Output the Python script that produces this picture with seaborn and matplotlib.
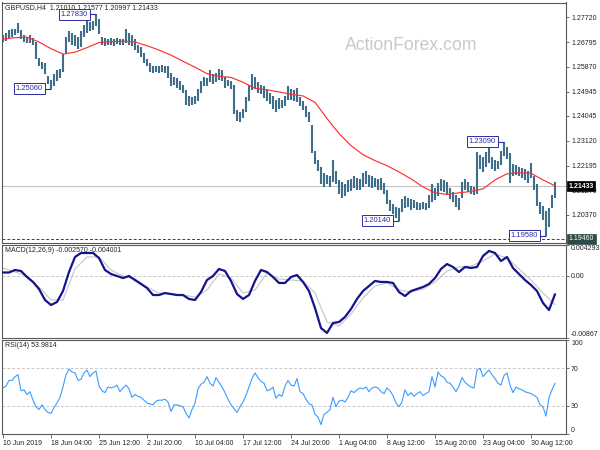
import numpy as np
import seaborn as sns
import matplotlib.pyplot as plt
import matplotlib.transforms as mtrans

# ---------------- data ----------------
# H4 price bars, oldest first (high / low)
bar_high = [
    1.2705, 1.2712, 1.2725, 1.2730, 1.2728, 1.2752, 1.2725, 1.2705, 1.2700, 1.2705,
    1.2695, 1.2680, 1.2620, 1.2605, 1.2600, 1.2555, 1.2540, 1.2560, 1.2575, 1.2580,
    1.2635, 1.2700, 1.2722, 1.2715, 1.2705, 1.2700, 1.2720, 1.2745, 1.2760, 1.2755,
    1.2760, 1.2783, 1.2765, 1.2700, 1.2695, 1.2690, 1.2695, 1.2690, 1.2695, 1.2692,
    1.2690, 1.2730, 1.2715, 1.2705, 1.2690, 1.2670, 1.2660, 1.2640, 1.2615, 1.2600,
    1.2590, 1.2592, 1.2590, 1.2595, 1.2592, 1.2590, 1.2565, 1.2550, 1.2545, 1.2535,
    1.2520, 1.2500, 1.2480, 1.2475, 1.2480, 1.2505, 1.2535, 1.2550, 1.2545, 1.2575,
    1.2560, 1.2565, 1.2580, 1.2575, 1.2550, 1.2540, 1.2535, 1.2520, 1.2425, 1.2420,
    1.2430, 1.2475, 1.2520, 1.2560, 1.2550, 1.2530, 1.2520, 1.2515, 1.2500, 1.2490,
    1.2480, 1.2465, 1.2470, 1.2465, 1.2480, 1.2515, 1.2505, 1.2500, 1.2510, 1.2475,
    1.2460, 1.2440, 1.2420, 1.2370, 1.2275, 1.2240, 1.2215, 1.2190, 1.2185, 1.2180,
    1.2240, 1.2200, 1.2165, 1.2160, 1.2150, 1.2165, 1.2170, 1.2180, 1.2175, 1.2170,
    1.2190, 1.2200, 1.2185, 1.2180, 1.2175, 1.2170, 1.2175, 1.2155, 1.2130, 1.2090,
    1.2075, 1.2065, 1.2060, 1.2095, 1.2105, 1.2100, 1.2095, 1.2090, 1.2085, 1.2080,
    1.2085, 1.2080, 1.2110, 1.2150, 1.2135, 1.2155, 1.2170, 1.2165, 1.2160, 1.2135,
    1.2120, 1.2110, 1.2100, 1.2160, 1.2170, 1.2160, 1.2145, 1.2140, 1.2270, 1.2260,
    1.2250, 1.2270, 1.2288, 1.2250, 1.2240, 1.2235, 1.2275, 1.2309, 1.2290, 1.2265,
    1.2225, 1.2220, 1.2215, 1.2210, 1.2205, 1.2200, 1.2230, 1.2180, 1.2150, 1.2085,
    1.2070, 1.2050, 1.2060, 1.2110, 1.2158,
]
bar_low = [
    1.2680, 1.2685, 1.2695, 1.2700, 1.2705, 1.2715, 1.2690, 1.2680, 1.2675, 1.2678,
    1.2668, 1.2615, 1.2590, 1.2578, 1.2560, 1.2525, 1.2506, 1.2515, 1.2535, 1.2545,
    1.2570, 1.2640, 1.2680, 1.2670, 1.2665, 1.2655, 1.2660, 1.2700, 1.2715, 1.2720,
    1.2725, 1.2740, 1.2710, 1.2670, 1.2665, 1.2668, 1.2670, 1.2665, 1.2672, 1.2668,
    1.2668, 1.2675, 1.2670, 1.2665, 1.2650, 1.2640, 1.2625, 1.2600, 1.2590, 1.2570,
    1.2565, 1.2568, 1.2565, 1.2570, 1.2565, 1.2545, 1.2515, 1.2520, 1.2510, 1.2500,
    1.2490, 1.2445, 1.2440, 1.2445, 1.2450, 1.2460, 1.2490, 1.2515, 1.2515, 1.2530,
    1.2525, 1.2530, 1.2540, 1.2535, 1.2510, 1.2515, 1.2505, 1.2410, 1.2385, 1.2380,
    1.2395, 1.2420, 1.2460, 1.2500, 1.2505, 1.2490, 1.2485, 1.2470, 1.2460, 1.2450,
    1.2430, 1.2420, 1.2430, 1.2435, 1.2440, 1.2465, 1.2465, 1.2460, 1.2455, 1.2440,
    1.2425, 1.2400, 1.2380, 1.2265, 1.2225, 1.2200, 1.2150, 1.2140, 1.2150, 1.2140,
    1.2160, 1.2150, 1.2115, 1.2100, 1.2105, 1.2120, 1.2125, 1.2135, 1.2130, 1.2130,
    1.2140, 1.2150, 1.2140, 1.2135, 1.2140, 1.2130, 1.2130, 1.2115, 1.2075, 1.2050,
    1.2040, 1.2025, 1.2014, 1.2045, 1.2060, 1.2065, 1.2055, 1.2060, 1.2055, 1.2055,
    1.2058, 1.2055, 1.2060, 1.2085, 1.2090, 1.2105, 1.2125, 1.2120, 1.2110, 1.2095,
    1.2085, 1.2065, 1.2055, 1.2100, 1.2130, 1.2120, 1.2115, 1.2110, 1.2115, 1.2205,
    1.2195, 1.2215, 1.2230, 1.2205, 1.2200, 1.2205, 1.2220, 1.2255, 1.2245, 1.2155,
    1.2180, 1.2185, 1.2180, 1.2175, 1.2165, 1.2155, 1.2175, 1.2130, 1.2070, 1.2040,
    1.2015, 1.1958, 1.1990, 1.2060, 1.2100,
]

# red moving average, one value every 4 bars
ma_line = [
    1.2691, 1.2696, 1.2698, 1.2680, 1.2655, 1.2635, 1.2642, 1.2659, 1.2678, 1.2681,
    1.2683, 1.2680, 1.2666, 1.2650, 1.2631, 1.2608, 1.2586, 1.2562, 1.2552, 1.2548,
    1.2530, 1.2507, 1.2502, 1.2494, 1.2485, 1.2479, 1.2455, 1.2395, 1.2339, 1.2294,
    1.2260, 1.2238, 1.2219, 1.2196, 1.2170, 1.2140, 1.2118, 1.2112, 1.2118, 1.2123,
    1.2133, 1.2166, 1.2189, 1.2193, 1.2191, 1.2166, 1.2144,
]

# MACD(12,26,9) main line, one value every 2 bars
macd_main = [
    0.00046, 0.00046, 0.00081, 0.00067, -0.00017, -0.00086, -0.00184, -0.00337, -0.00407, -0.00365,
    -0.00212, 0.00053, 0.00262, 0.00318, 0.00318, 0.00318, 0.00248, 0.00081, 0.00025, -0.00003,
    -0.00031, -0.00003, -0.00059, -0.00114, -0.00170, -0.00268, -0.00268, -0.00240, -0.00254, -0.00268,
    -0.00268, -0.00323, -0.00337, -0.00226, -0.00059, -0.00003, 0.00095, 0.00067, -0.00072, -0.00254,
    -0.00323, -0.00268, -0.00072, 0.00081, 0.00053, -0.00017, -0.00100, -0.00100, -0.00017, 0.00011,
    -0.00086, -0.00212, -0.00449, -0.00728, -0.00797, -0.00658, -0.00644, -0.00574, -0.00463, -0.00323,
    -0.00212, -0.00142, -0.00072, -0.00086, -0.00086, -0.00100, -0.00226, -0.00282, -0.00212, -0.00184,
    -0.00156, -0.00114, -0.00031, 0.00095, 0.00164, 0.00123, 0.00053, 0.00123, 0.00109, 0.00123,
    0.00276, 0.00346, 0.00318, 0.00206, 0.00262, 0.00109, 0.00025, -0.00059, -0.00128, -0.00212,
    -0.00379, -0.00477, -0.00257,
]
# MACD signal line, one value every 4 bars
macd_signal = [
    0.00109, 0.00053, -0.00003, -0.00156, -0.00337, -0.00337, 0.00095, 0.00262, 0.00262, 0.00081,
    -0.00003, -0.00045, -0.00156, -0.00240, -0.00254, -0.00268, -0.00296, -0.00198, 0.00025, -0.00031,
    -0.00240, -0.00198, 0.00039, -0.00045, -0.00059, -0.00072, -0.00240, -0.00644, -0.00700, -0.00532,
    -0.00309, -0.00142, -0.00100, -0.00198, -0.00226, -0.00184, -0.00086, 0.00067, 0.00123, 0.00137,
    0.00206, 0.00304, 0.00248, 0.00095, -0.00059, -0.00240, -0.00400,
]

# RSI(14), one value per bar
rsi = [
    49, 51, 57, 57, 61, 63, 46, 47, 42, 45,
    36, 29, 26, 31, 26, 23, 22, 28, 33, 39,
    50, 63, 69, 66, 65, 57, 58, 65, 68, 61,
    65, 67, 51, 46, 44, 50, 49, 50, 52, 45,
    49, 52, 48, 39, 42, 40, 39, 36, 33, 32,
    31, 35, 36, 36, 37, 34, 24, 31, 31, 30,
    29, 22, 17, 26, 33, 48, 53, 55, 61, 54,
    51, 60, 55, 50, 44, 37, 31, 27, 23, 29,
    34, 41, 50, 59, 65, 60, 56, 54, 46, 47,
    50, 38, 42, 40, 51, 57, 52, 51, 59, 45,
    43, 37, 32, 31, 21, 18, 10, 21, 23, 26,
    39, 29, 35, 36, 34, 39, 46, 44, 47, 49,
    48, 50, 45, 49, 50, 49, 45, 43, 49, 46,
    41, 33, 29, 34, 47, 41, 44, 40, 43, 45,
    41, 43, 45, 61, 50, 66, 62, 60, 55, 54,
    50, 45, 51, 60, 55, 52, 50, 49, 68, 70,
    61, 65, 68, 63, 59, 54, 52, 62, 65, 52,
    44, 50, 48, 47, 45, 44, 43, 41, 39, 31,
    29, 19, 39, 47, 53.98,
]

price_ticks = [1.27720, 1.26795, 1.25870, 1.24945, 1.24045, 1.23120, 1.22195, 1.21270, 1.20370]
date_labels = ["10 Jun 2019", "18 Jun 04:00", "25 Jun 12:00", "2 Jul 20:00", "10 Jul 04:00",
               "17 Jul 12:00", "24 Jul 20:00", "1 Aug 04:00", "8 Aug 12:00", "15 Aug 20:00",
               "23 Aug 04:00", "30 Aug 12:00"]
date_bars = [0, 16, 32, 48, 64, 80, 96, 112, 128, 144, 160, 176]

# swing high/low labels and the bar they belong to
swing_price = [1.27830, 1.25060, 1.20140, 1.23090, 1.19580]
swing_bar = [31, 16, 132, 167, 181]

last_price = 1.21433
support_price = 1.19460
header = "GBPUSD,H4  1.21010 1.21577 1.20997 1.21433"

# ---------------- style ----------------
sns.set_style("white")
plt.rcParams['font.family'] = ['Liberation Sans', 'DejaVu Sans']
FS = 5.0
BAR_COLOR = "#3f6e8b"
FRAME = "#5a5a5a"
LABEL_BLUE = "#2b2ba6"

fig = plt.figure(figsize=(6, 4.5), dpi=100)
ax_p = fig.add_axes([2/600, 1 - 242.5/450, 564/600, 240/450])
ax_m = fig.add_axes([2/600, 1 - 338/450, 564/600, 93/450])
ax_r = fig.add_axes([2/600, 1 - 434/450, 564/600, 94/450])

xlim = (-1/3, 563/3)
for ax in (ax_p, ax_m, ax_r):
    ax.set_facecolor("white")
    ax.set_xlim(*xlim)
    for s in ax.spines.values():
        s.set_color(FRAME)
        s.set_linewidth(0.8)
    ax.yaxis.tick_right()
    ax.tick_params(axis='y', direction='out', length=2.5, width=0.6, color=FRAME,
                   labelsize=FS, pad=1.2, labelcolor="#222222", left=False)
    ax.set_xlabel("")
    ax.set_ylabel("")

# ---------------- price panel ----------------
bars = np.arange(len(bar_high))
ax_p.axhline(last_price, color="#c4c4c4", lw=0.8, zorder=1)
ax_p.axhline(support_price, color="#404040", lw=0.7, ls=(0, (3, 2)), zorder=1)
ax_p.vlines(bars, bar_low, bar_high, color=BAR_COLOR, lw=1.5, zorder=2)
sns.lineplot(x=np.arange(len(ma_line)) * 4, y=ma_line, ax=ax_p, color="#ff3030", lw=0.85, zorder=3)
ax_p.set_ylim(1.19329, 1.28271)
ax_p.set_yticks(price_ticks, [f"{p:.5f}" for p in price_ticks])
ax_p.set_xticks([])

ax_p.text(0.005, 0.992, header, transform=ax_p.transAxes, ha='left', va='top',
          fontsize=FS, color="#222222")
ax_p.text(0.725, 0.82, "ActionForex.com", transform=ax_p.transAxes, ha='center', va='center',
          fontsize=12.7, color="#c9c9c9", zorder=0)

for p, b in zip(swing_price, swing_bar):
    ax_p.hlines(p, b - 2.1, b, color=LABEL_BLUE, lw=0.8, zorder=4)
    ax_p.text(b - 2.75, p, f"{p:.5f}", ha='right', va='center', fontsize=FS + 0.4, color=LABEL_BLUE,
              zorder=5, bbox=dict(boxstyle='square,pad=0.25', fc='white', ec=LABEL_BLUE, lw=0.7))

blend = mtrans.blended_transform_factory(ax_p.transAxes, ax_p.transData)
ax_p.text(1.005, last_price, f"{last_price:.5f}", transform=blend, ha='left', va='center',
          fontsize=FS, color='white', fontweight='bold', clip_on=False, zorder=6,
          bbox=dict(boxstyle='square,pad=0.2', fc='black', ec='black', lw=0.5))
ax_p.text(1.005, support_price, f"{support_price:.5f}", transform=blend, ha='left', va='center',
          fontsize=FS, color='white', clip_on=False, zorder=6,
          bbox=dict(boxstyle='square,pad=0.2', fc='#2e4a48', ec='#2e4a48', lw=0.5))

# ---------------- MACD panel ----------------
ax_m.axhline(0, color="#c8c8c8", lw=0.7, ls=(0, (3, 2)), zorder=1)
sns.lineplot(x=np.arange(len(macd_signal)) * 4, y=macd_signal, ax=ax_m, color="#c4c4c4", lw=0.8, zorder=2)
sns.lineplot(x=np.arange(len(macd_main)) * 2, y=macd_main, ax=ax_m, color="#14148c", lw=1.6, zorder=3)
ax_m.set_ylim(-0.00867, 0.004293)
ax_m.set_yticks([0.004293, 0.0, -0.00867], ["0.004293", "0.00", "-0.00867"])
mlabels = ax_m.get_yticklabels()
mlabels[0].set_verticalalignment('top')
mlabels[2].set_verticalalignment('bottom')
ax_m.set_xticks([])
ax_m.text(0.005, 0.975, "MACD(12,26,9) -0.002570 -0.004001", transform=ax_m.transAxes,
          ha='left', va='top', fontsize=FS, color="#222222")

# ---------------- RSI panel ----------------
for lvl in (70, 30):
    ax_r.axhline(lvl, color="#c8c8c8", lw=0.7, ls=(0, (3, 2)), zorder=1)
sns.lineplot(x=np.arange(len(rsi)), y=rsi, ax=ax_r, color="#3b9cff", lw=0.8, zorder=3)
ax_r.set_ylim(0, 100)
ax_r.set_yticks([100, 70, 30, 0], ["100", "70", "30", "0"])
rlabels = ax_r.get_yticklabels()
rlabels[0].set_verticalalignment('top')
rlabels[3].set_verticalalignment('bottom')
ax_r.text(0.005, 0.978, "RSI(14) 53.9814", transform=ax_r.transAxes,
          ha='left', va='top', fontsize=FS, color="#222222")

ax_r.set_xticks(date_bars, date_labels)
ax_r.tick_params(axis='x', direction='out', length=3, width=0.6, color=FRAME,
                 labelsize=FS, pad=1.5, labelcolor="#222222", bottom=True)
for lab in ax_r.get_xticklabels():
    lab.set_horizontalalignment('left')

fig.savefig("out.png", dpi=100)
